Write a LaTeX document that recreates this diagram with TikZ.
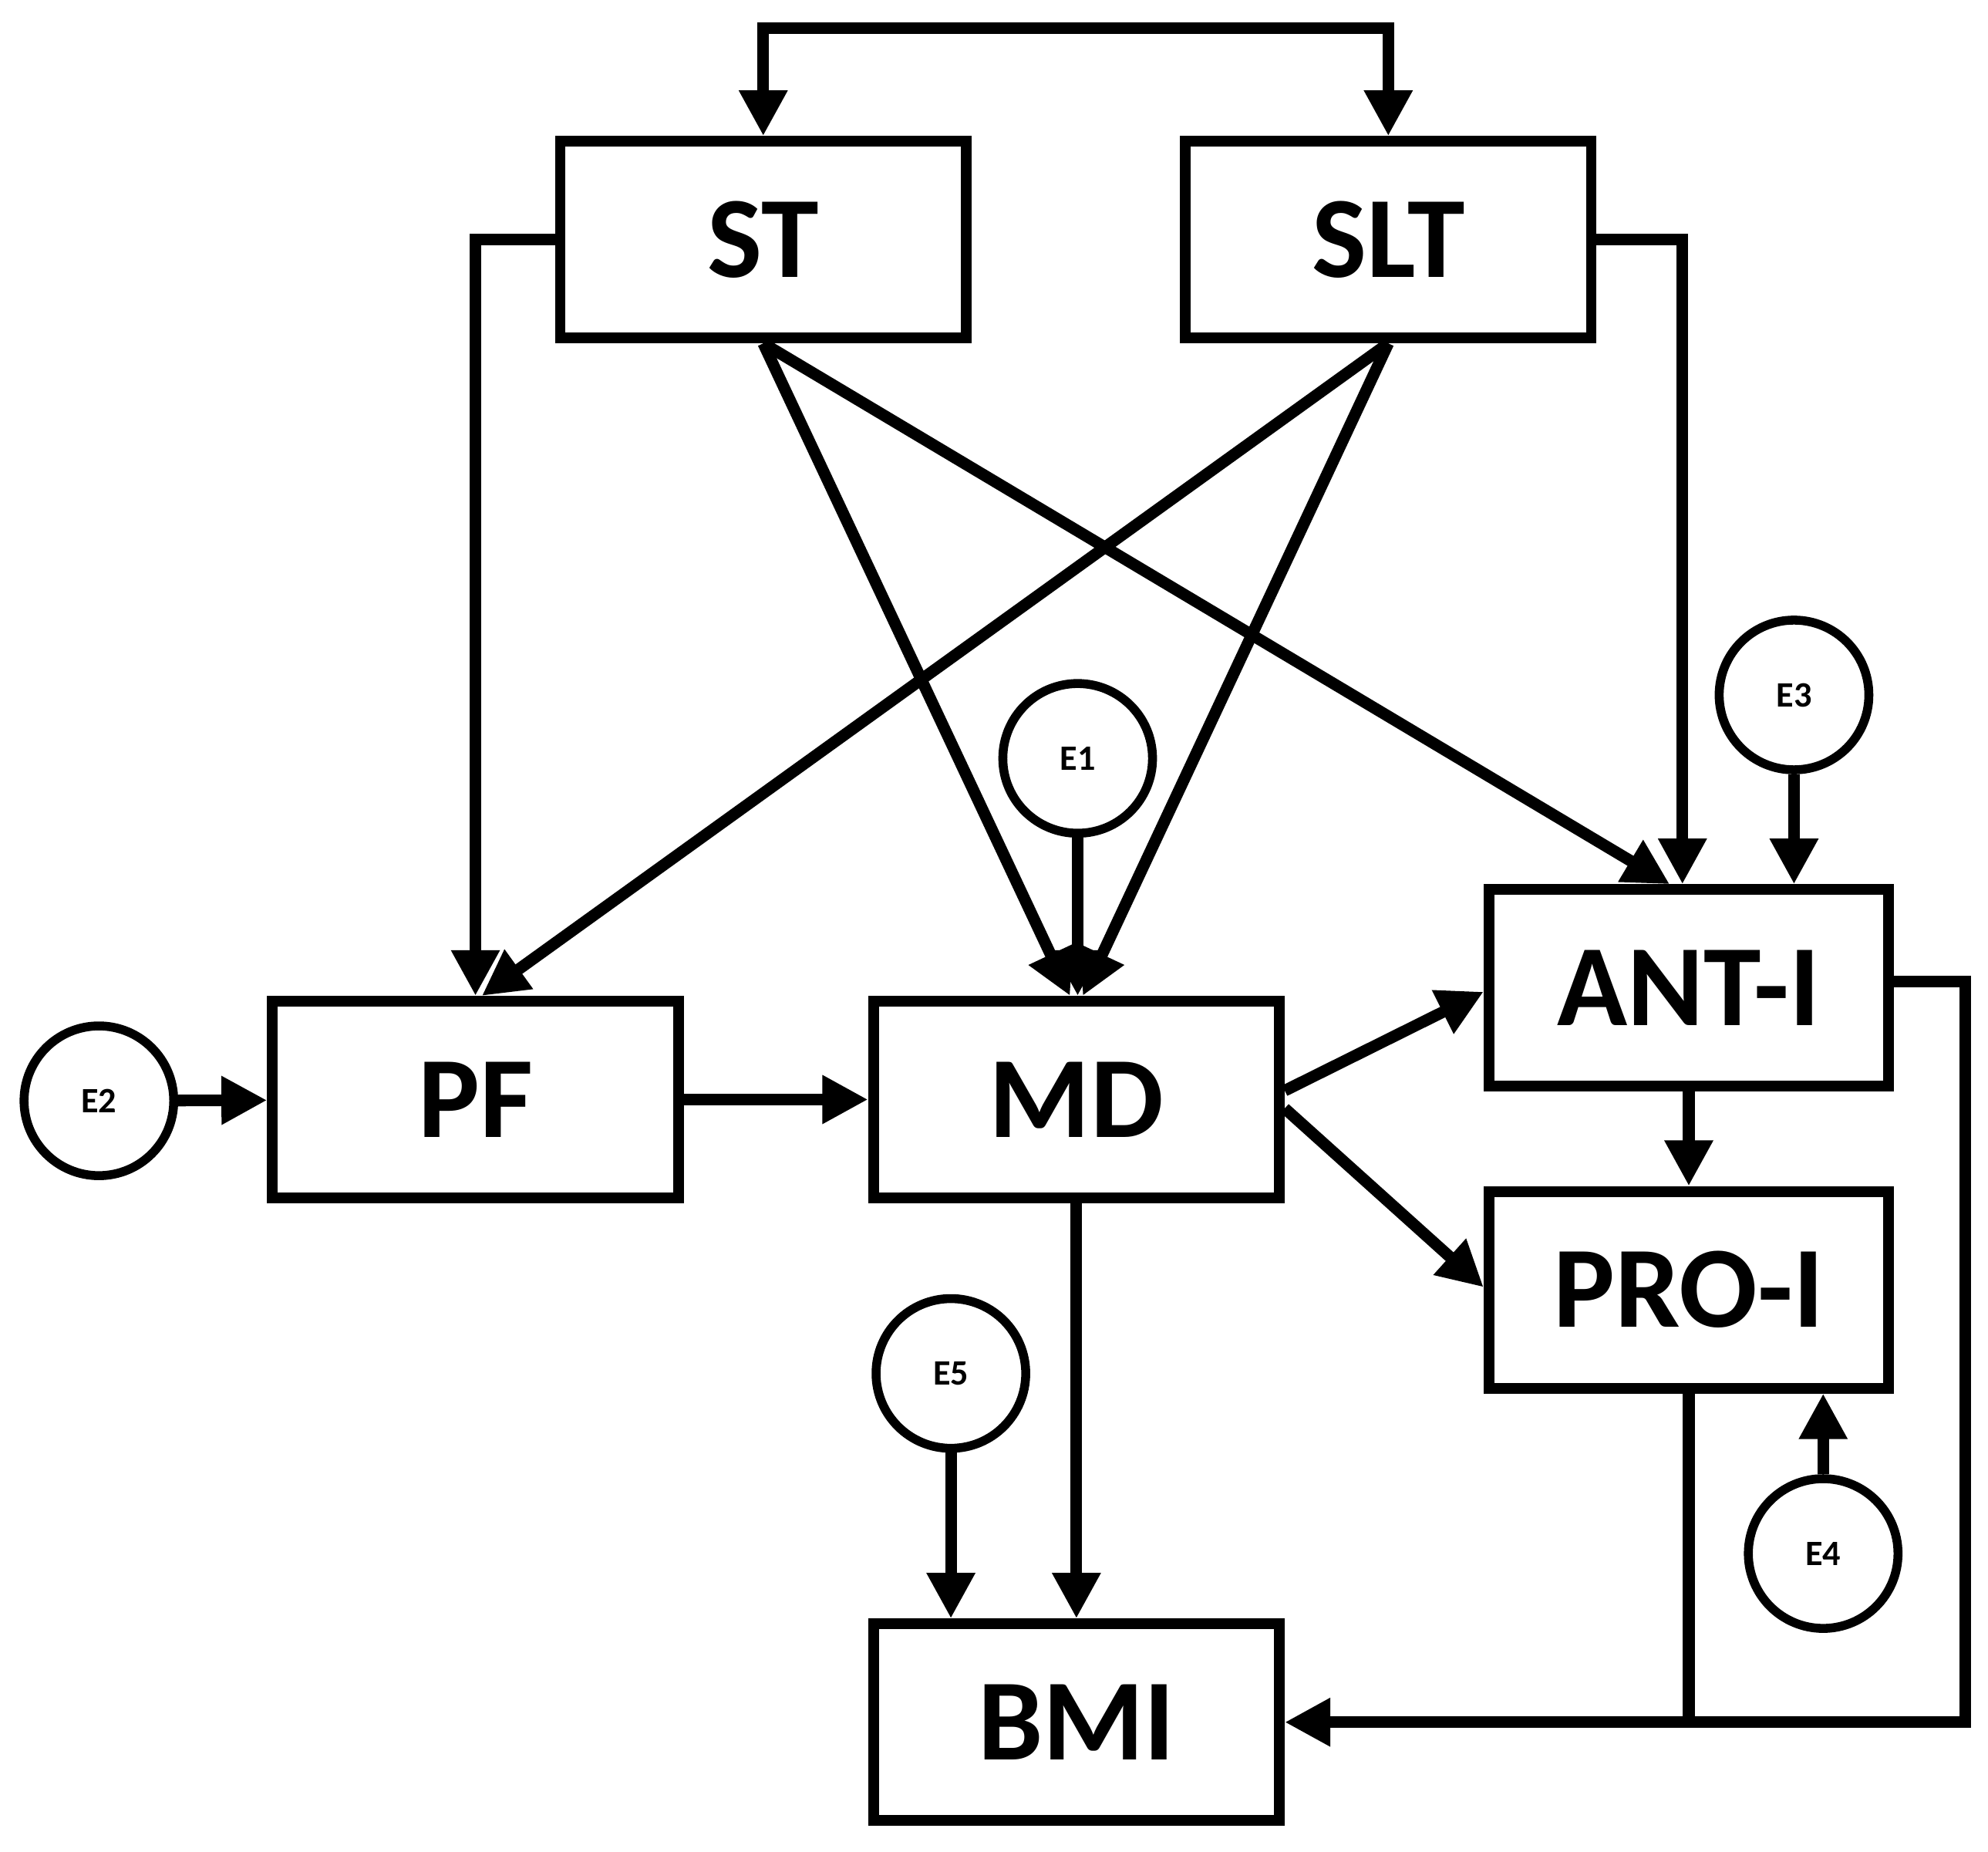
\documentclass[tikz,border=0pt]{standalone}
\usepackage{fontspec}
\setmainfont{Carlito}
\usetikzlibrary{arrows.meta,positioning,calc}
\tikzset{>={Triangle[length=0.36cm,width=0.36cm]}}
\tikzset{box/.style={draw,line width=2.4pt,minimum width=3.2cm,minimum height=1.55cm,font=\fontsize{26}{28}\selectfont\bfseries},
  err/.style={draw,circle,line width=2pt,minimum size=1.18cm,inner sep=0pt,font=\fontsize{8}{9}\selectfont\bfseries},
  link/.style={line width=2.6pt,->}}

\begin{document}
\begin{tikzpicture}[x=0.01cm,y=-0.01cm]
    \useasboundingbox (0,0) rectangle (1568,1460);
    \node [box] (st) at (602,189) {ST};
    \node [box] (slt) at (1095,189) {SLT};
    \node [box] (pf) at (375,867) {PF};
    \node [box] (md) at (849,867) {MD};
    \node [box,minimum width=3.15cm] (ant) at (1332,779) {ANT-I};
    \node [box,minimum width=3.15cm] (pro) at (1332,1017) {PRO-I};
    \node [box] (bmi) at (849,1358) {BMI};

    \node [err] (e1) at (850,598) {E1};
    \node [err] (e2) at (78,868) {E2};
    \node [err] (e3) at (1415,548) {E3};
    \node [err] (e4) at (1438,1225) {E4};
    \node [err] (e5) at (750,1083) {E5};

    % top loop
    \coordinate (top) at (850,22);
    \draw [link,<->] (st.north) |- (top) -| (slt.north);
    % sides
    \draw [link] (st.west) -| (pf.north);
    \draw [link] (slt.east) -| ([xshift=-0.05cm]ant.north);
    % crossings
    \draw [link] (st.south) -- ([xshift=-0.05cm]md.north);
    \draw [link] (st.south) -- ([xshift=-0.15cm]ant.north);
    \draw [link] (slt.south) -- ([xshift=0.05cm]pf.north);
    \draw [link] (slt.south) -- ([xshift=0.05cm]md.north);
    % errors
    \draw [link] (e1) -- (e1 |- md.north);
    \draw [link] (e2) -- (pf);
    \draw [link] (e3) -- (e3 |- ant.north);
    \draw [link] (e4) -- (e4 |- pro.south);
    \draw [link] (e5) -- (e5 |- bmi.north);
    % lower part
    \draw [link] (pf) -- (md);
    \draw [link] ([yshift=0.07cm]md.east) -- ([yshift=-0.03cm]ant.west);
    \draw [link] ([yshift=-0.07cm]md.east) -- ([yshift=0.02cm]pro.west);
    \draw [link] (ant) -- (pro);
    \draw [link] (md) -- (bmi);
    \coordinate (corner) at (1550,1358);
    \draw [line width=2.6pt] (pro.south) -- (pro.south |- corner);
    \draw [link] ([yshift=0.05cm]ant.east) -| (corner) -- (bmi.east);
\end{tikzpicture}
\end{document}
